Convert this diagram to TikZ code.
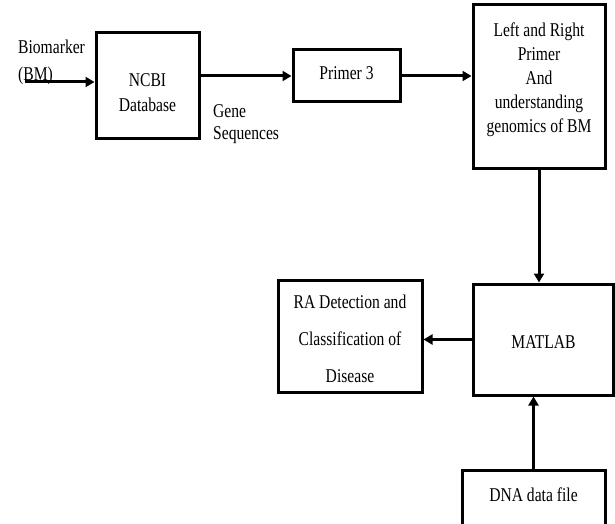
\documentclass[tikz,border=0pt]{standalone}
\usepackage{fontspec}
\setmainfont{Liberation Serif}[FakeStretch=0.8]
\usetikzlibrary{arrows.meta}
\begin{document}
\begin{tikzpicture}[x=1pt,y=-1pt,
  box/.style={draw,line width=3pt,inner sep=0pt},
  txt/.style={font=\fontsize{19.5}{24}\selectfont,align=center,inner sep=0pt},
  arr/.style={line width=3pt,-{Triangle[length=9pt,width=10pt]}}]
\useasboundingbox (0,0) rectangle (615,524);
% boxes
\node[box,minimum width=103pt,minimum height=105pt] (ncbi) at (147.5,85.5) {};
\node[box,minimum width=107pt,minimum height=52pt] (primer) at (346.5,76) {};
\node[box,minimum width=132pt,minimum height=163pt] (lr) at (539,86.5) {};
\node[box,minimum width=140pt,minimum height=111pt] (matlab) at (543.5,339.5) {};
\node[box,minimum width=144pt,minimum height=112pt] (ra) at (350,336) {};
\node[box,minimum width=143pt,minimum height=80pt] (dna) at (533.5,510) {};
% texts
\node[txt,font=\fontsize{19.5}{25}\selectfont] (ncbit) at (147.5,93) {NCBI\\Database};
\node[txt] (primert) at (346.5,73) {Primer 3};
\node[txt] (lrt) at (539,80) {Left and Right\\Primer\\And\\understanding\\genomics of BM};
\node[txt] (matlabt) at (543.5,342) {MATLAB};
\node[txt,font=\fontsize{19.5}{37}\selectfont] (rat) at (350,339) {RA Detection and\\Classification of\\Disease};
\node[txt] (dnat) at (533.5,495) {DNA data file};
\node[txt,align=left,anchor=north west,font=\fontsize{19.5}{27}\selectfont] (bmt) at (18,40) {Biomarker\\(BM)};
\node[txt,align=left,anchor=north west,font=\fontsize{19.5}{22}\selectfont] (genet) at (213,104) {Gene\\Sequences};
% connectors
\coordinate (bmstart) at (25,82);
\draw[arr] (bmstart) -- (bmstart -| ncbi.west);
\draw[arr] (ncbi.east |- primer.west) -- (primer.west);
\draw[arr] (primer.east) -- (primer.east -| lr.west);
\draw[arr] (lr.south) -- (lr.south |- matlab.north);
\draw[arr] (matlab.west) -- (matlab.west -| ra.east);
\draw[arr] (dna.north) -- (dna.north |- matlab.south);
\end{tikzpicture}
\end{document}
